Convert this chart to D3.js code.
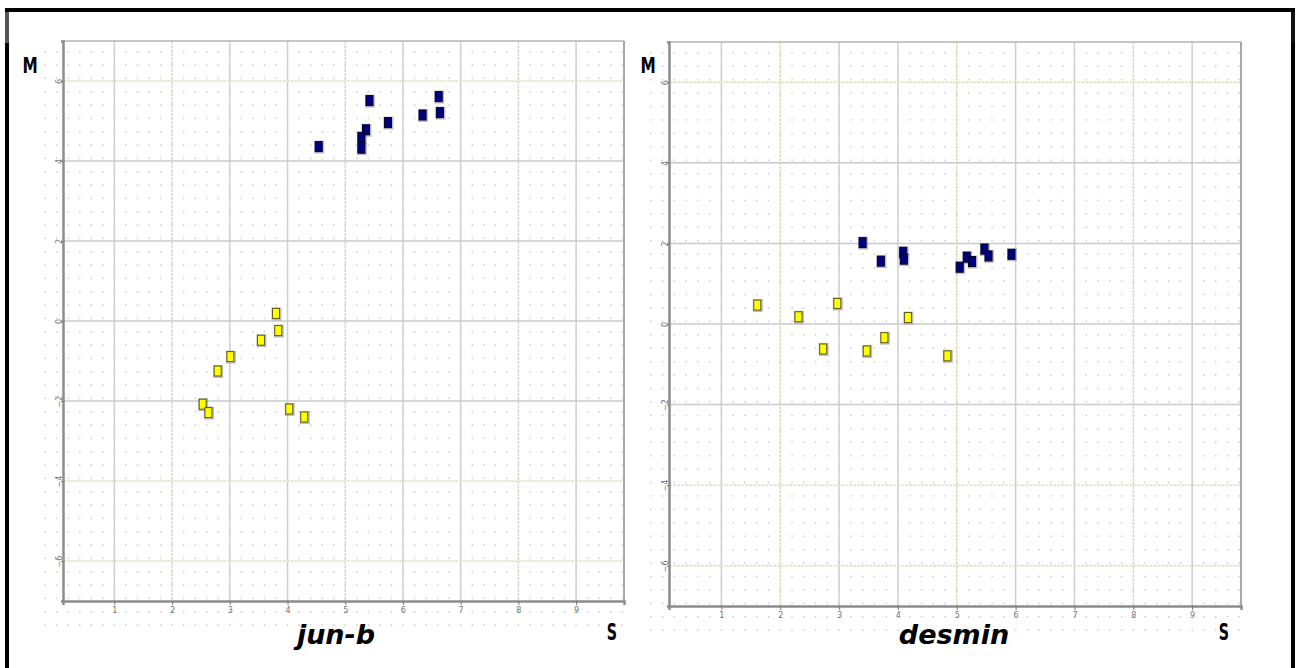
<!DOCTYPE html>
<html>
<head>
<meta charset="utf-8">
<script src="https://cdn.jsdelivr.net/npm/d3@7"></script>
<style>
  body { margin: 0; background: #fff; }
  svg { display: block; }
</style>
</head>
<body>
<svg width="1298" height="668"></svg>
<script>
// ticks
var xTicks = [1, 2, 3, 4, 5, 6, 7, 8, 9];
var yTicks = [-6, -4, -2, 0, 2, 4, 6];

// jun-b panel (S, M)
var junbBlue = [[4.54, 4.36], [5.42, 5.51], [5.36, 4.78], [5.28, 4.59], [5.28, 4.32],
                [5.74, 4.96], [6.34, 5.15], [6.62, 5.61], [6.64, 5.21]];
var junbYellow = [[3.80, 0.19], [3.84, -0.24], [3.54, -0.48], [3.01, -0.89], [2.79, -1.25],
                  [2.53, -2.08], [2.63, -2.29], [4.03, -2.20], [4.29, -2.40]];

// desmin panel (S, M)
var desminBlue = [[3.40, 2.02], [3.71, 1.56], [4.09, 1.78], [4.10, 1.61], [5.05, 1.41],
                  [5.17, 1.66], [5.26, 1.55], [5.47, 1.86], [5.54, 1.69], [5.93, 1.73]];
var desminYellow = [[1.61, 0.47], [2.31, 0.18], [2.97, 0.51], [2.73, -0.62], [3.47, -0.67],
                    [3.77, -0.34], [4.17, 0.16], [4.84, -0.79]];

var xDomain = [0.11, 9.83];
var yDomain = [-7, 7];

var svg = d3.select("svg");

// outer frame
svg.append("line").attr("x1", 5).attr("x2", 1295).attr("y1", 10).attr("y2", 10)
  .attr("stroke", "#000").attr("stroke-width", 4);
svg.append("line").attr("x1", 7).attr("x2", 7).attr("y1", 8).attr("y2", 668)
  .attr("stroke", "#000").attr("stroke-width", 4);
svg.append("line").attr("x1", 1293).attr("x2", 1293).attr("y1", 8).attr("y2", 668)
  .attr("stroke", "#000").attr("stroke-width", 4);
svg.append("rect").attr("x", 5).attr("y", 12).attr("width", 4).attr("height", 31).attr("fill", "#555");
svg.append("rect").attr("x", 1291).attr("y", 12).attr("width", 4).attr("height", 31).attr("fill", "#111");

var panels = [
  {title: "jun-b", blue: junbBlue, yellow: junbYellow,
   left: 63, right: 624, top: 41, bottom: 601, titleX: 336, sX: 612, mX: 30},
  {title: "desmin", blue: desminBlue, yellow: desminYellow,
   left: 669, right: 1241, top: 42, bottom: 606, titleX: 954, sX: 1224, mX: 648}
];

panels.forEach(function(p) {
  var x = d3.scaleLinear().domain(xDomain).range([p.left, p.right]);
  var y = d3.scaleLinear().domain(yDomain).range([p.bottom, p.top]);
  var g = svg.append("g");

  // dotted background
  var dotXs = d3.range(-0.2, 9.81, 0.2);
  var dotYs = d3.range(-7.6, 6.9, 1 / 3);
  var dots = [];
  dotXs.forEach(function(a) { dotYs.forEach(function(b) { dots.push([a, b]); }); });
  g.append("g").selectAll("rect").data(dots).enter().append("rect")
    .attr("x", function(d) { return x(d[0]) - 0.7; })
    .attr("y", function(d) { return y(d[1]) - 0.7; })
    .attr("width", 1.5).attr("height", 1.5)
    .attr("fill", "#cccccc");

  // grid
  g.append("g").selectAll("line").data(xTicks).enter().append("line")
    .attr("x1", function(d) { return x(d); }).attr("x2", function(d) { return x(d); })
    .attr("y1", p.top).attr("y2", p.bottom)
    .attr("stroke", function(d, i) { return i % 3 == 1 ? "#ddd9c0" : "#cfcfcf"; })
    .attr("stroke-width", 1.5)
    .attr("stroke-dasharray", function(d, i) { return i % 3 == 1 ? "3,1" : null; });
  g.append("g").selectAll("line").data(yTicks).enter().append("line")
    .attr("x1", p.left).attr("x2", p.right)
    .attr("y1", function(d) { return y(d); }).attr("y2", function(d) { return y(d); })
    .attr("stroke", function(d) { return (d == 6 || d == -6 || d == -4) ? "#e6e2b4" : "#cacaca"; })
    .attr("stroke-width", 1.5)
    .attr("stroke-dasharray", function(d) { return (d == 6 || d == -6 || d == -4) ? "3,1" : null; });

  // frame
  g.append("line").attr("x1", p.left).attr("x2", p.right).attr("y1", p.top).attr("y2", p.top)
    .attr("stroke", "#b4b4b4").attr("stroke-width", 1.5);
  g.append("line").attr("x1", p.right).attr("x2", p.right).attr("y1", p.top).attr("y2", p.bottom)
    .attr("stroke", "#a8a8a8").attr("stroke-width", 2);

  // axes
  var xAxis = g.append("g").attr("transform", "translate(0," + p.bottom + ")")
    .call(d3.axisBottom(x).tickValues(xTicks).tickSize(4).tickPadding(2).tickFormat(d3.format("d")));
  var yAxis = g.append("g").attr("transform", "translate(" + p.left + ",0)")
    .call(d3.axisLeft(y).tickValues(yTicks).tickSize(2).tickPadding(1).tickFormat(d3.format("d")));
  [xAxis, yAxis].forEach(function(a) {
    a.select(".domain").attr("stroke", "#8c8c8c").attr("stroke-width", 2.5);
    a.selectAll(".tick line").attr("stroke", "#777");
    a.selectAll("text").attr("fill", "#777").style("font-size", "9px")
      .style("font-family", "'DejaVu Sans Condensed', 'Liberation Sans Narrow', sans-serif");
  });
  yAxis.selectAll("text")
    .attr("text-anchor", "middle")
    .attr("dy", "0.3em")
    .attr("transform", "translate(-4,0) rotate(-90)")
    .attr("x", 0);

  // markers
  function drawMarkers(data, fill, edge) {
    var m = g.append("g");
    m.selectAll(".shadow").data(data).enter().append("rect")
      .attr("class", "shadow")
      .attr("x", function(d) { return x(d[0]) - 4.5; })
      .attr("y", function(d) { return y(d[1]) - 6; })
      .attr("width", 10).attr("height", 13)
      .attr("fill", "#8a8a8a").attr("opacity", 0.55);
    m.selectAll(".mark").data(data).enter().append("rect")
      .attr("class", "mark")
      .attr("x", function(d) { return x(d[0]) - 3.5; })
      .attr("y", function(d) { return y(d[1]) - 5; })
      .attr("width", 7).attr("height", 10)
      .attr("fill", fill).attr("stroke", edge).attr("stroke-width", 1);
  }
  drawMarkers(p.yellow, "#ffff00", "#5c5a10");
  drawMarkers(p.blue, "#000080", "#00002e");

  // labels
  svg.append("text").attr("text-anchor", "middle")
    .attr("transform", "translate(" + p.mX + ",73) scale(0.85,1.15)")
    .style("font-family", "'DejaVu Sans', sans-serif")
    .style("font-weight", "bold").style("font-size", "18px").text("M");
  svg.append("text").attr("text-anchor", "middle")
    .attr("transform", "translate(" + p.sX + ",640) scale(0.75,1.25)")
    .style("font-family", "'DejaVu Sans', sans-serif")
    .style("font-weight", "bold").style("font-size", "19px").text("S");
  svg.append("text").attr("x", p.titleX).attr("y", 644).attr("text-anchor", "middle")
    .style("font-family", "'DejaVu Sans', sans-serif")
    .style("font-weight", "bold").style("font-style", "italic").style("font-size", "27px")
    .text(p.title);
});
</script>
</body>
</html>
